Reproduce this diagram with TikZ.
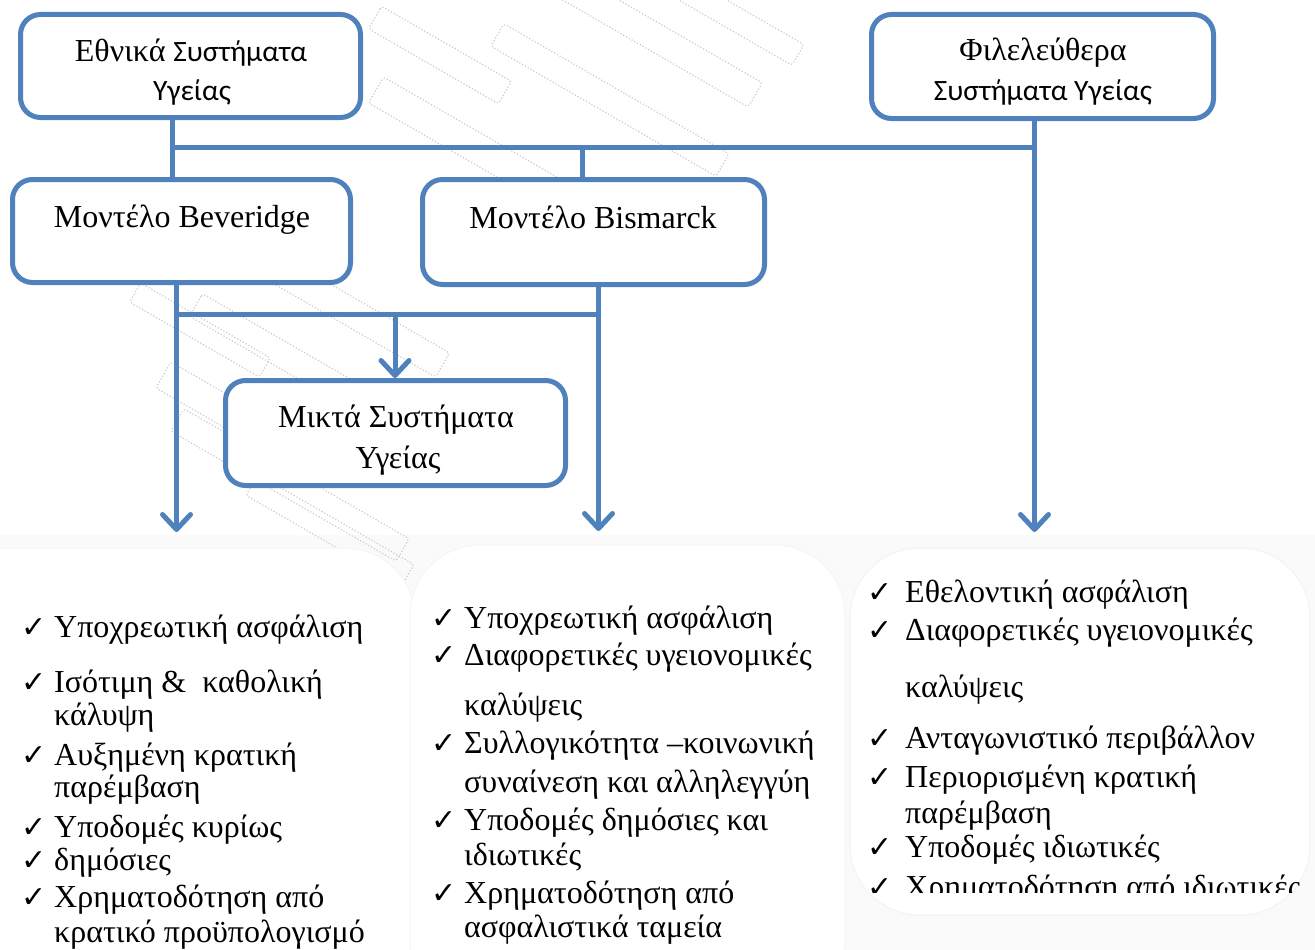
\documentclass[tikz,border=0pt]{standalone}
\usepackage{fontspec}
\setmainfont{Liberation Serif}
\newfontfamily\calib{Carlito}
\newfontfamily\djv{DejaVu Sans}
\usetikzlibrary{arrows.meta}
\definecolor{obl}{HTML}{4F81BD}
\tikzset{
  sbox/.style={draw=obl, line width=5pt, rounded corners=20pt, fill=white, inner sep=0pt},
  conn/.style={draw=obl, line width=5pt},
  arr/.style={conn, -{Straight Barb[length=15pt,width=28pt,line cap=round,line join=round]}},
  lbl/.style={inner sep=0pt, anchor=base, font=\fontsize{32}{38}\selectfont},
  bul/.style={inner sep=0pt, anchor=base west, font=\fontsize{32}{38}\selectfont},
  chk/.style={inner sep=0pt, anchor=base west, font=\djv\fontsize{30}{34}\selectfont},
  wm/.style={draw=black!20, line width=1.2pt, dotted, rounded corners=3pt},
  panel/.style={fill=white, draw=black!4, line width=1pt, rounded corners=70pt}
}
\begin{document}
\begin{tikzpicture}[x=1pt, y=-1pt]
\useasboundingbox (0,0) rectangle (1315,950);
\fill[white] (0,0) rectangle (1315,950);
\fill[black!2] (0,535) rectangle (1315,950);
% watermark
\foreach \cx/\cy/\l/\w in {660/40/220/28, 610/100/260/26, 480/150/240/30, 440/55/150/26, 330/300/260/28, 300/365/240/26, 250/425/200/30, 290/485/260/26, 330/530/180/24, 720/10/180/24, 200/330/150/22}{
  \begin{scope}[shift={(\cx,\cy)}, rotate=-30]
    \draw[wm] (-\l/2,-\w/2) rectangle (\l/2,\w/2);
  \end{scope}
}
% panels
\fill[panel] (-60,548) rectangle (415,1010);
\fill[panel] (410,545) rectangle (845,1010);
\fill[panel] (850,548) rectangle (1310,915);
\draw[panel, fill=none] (850,548) rectangle (1310,915);

% boxes
\node[sbox, minimum width=340pt, minimum height=103pt] (eth) at (190.5,66) {};
\node[sbox, minimum width=342pt, minimum height=104pt] (fil) at (1042.5,66.5) {};
\node[sbox, minimum width=338pt, minimum height=103pt] (bev) at (181.5,231) {};
\node[sbox, minimum width=342pt, minimum height=105pt] (bis) at (593.5,232) {};
\node[sbox, minimum width=340pt, minimum height=105pt] (mik) at (395.5,433) {};

% box texts
\node[lbl] (eth1) at (191,62) {Εθνικά {\calib\fontsize{29.5}{34}\selectfont Συστήματα}};
\node[lbl, font=\calib\fontsize{29.5}{34}\selectfont] (eth2) at (192,100) {Υγείας};
\node[lbl] (fil1) at (1043,60) {Φιλελεύθερα};
\node[lbl, font=\calib\fontsize{29.5}{34}\selectfont] (fil2) at (1043,100) {Συστήματα Υγείας};
\node[lbl] (bev1) at (182,227) {Μοντέλο Beveridge};
\node[lbl] (bis1) at (593,228) {Μοντέλο Bismarck};
\node[lbl] (mik1) at (396,427) {Μικτά Συστήματα};
\node[lbl] (mik2) at (398,468) {Υγείας};

% junction coordinates
\coordinate (j1) at (172.5,147.5);
\coordinate (j2) at (1034.5,147.5);
\coordinate (j3) at (582,147.5);
\coordinate (j4) at (176.5,314.5);
\coordinate (j5) at (598.5,314.5);
\coordinate (j6) at (395,314.5);
\coordinate (t1) at (176.5,532);
\coordinate (t2) at (598.5,531);
\coordinate (t3) at (1034.5,532);

% connectors
\draw[conn] (eth.south -| j1) -- (bev.north -| j1);
\draw[conn] (j1) -- (j2);
\draw[conn] (j3) -- (bis.north -| j3);
\draw[arr] (fil.south -| j2) -- (t3);
\draw[arr] (bev.south -| j4) -- (t1);
\draw[arr] (bis.south -| j5) -- (t2);
\draw[conn] (j4) -- (j5);
\draw[arr] (j6) -- (mik.north -| j6);

% column 1
\foreach \y/\t [count=\i] in {637/Υποχρεωτική ασφάλιση, 692/Ισότιμη \&\ \ καθολική, 725/κάλυψη, 765/Αυξημένη κρατική, 797/παρέμβαση, 837/Υποδομές κυρίως, 870/δημόσιες, 907/Χρηματοδότηση από, 942/κρατικό προϋπολογισμό}
  \node[bul] (a\i) at (54,\y) {\t};
\foreach \y [count=\i] in {637,692,765,837,870,907}
  \node[chk] (ka\i) at (21,\y) {✓};

% column 2
\foreach \y/\t [count=\i] in {628/Υποχρεωτική ασφάλιση, 665/Διαφορετικές υγειονομικές, 715/καλύψεις, 753/Συλλογικότητα –κοινωνική, 792/συναίνεση και αλληλεγγύη, 830/Υποδομές δημόσιες και, 865/ιδιωτικές, 903/Χρηματοδότηση από, 937/ασφαλιστικά ταμεία}
  \node[bul] (b\i) at (464,\y) {\t};
\foreach \y [count=\i] in {628,665,753,830,903}
  \node[chk] (kb\i) at (431,\y) {✓};

% column 3
\begin{scope}
\clip (840,540) rectangle (1315,892);
\foreach \y/\t [count=\i] in {602/Εθελοντική ασφάλιση, 640/Διαφορετικές υγειονομικές, 697/καλύψεις, 748/Ανταγωνιστικό περιβάλλον, 787/Περιορισμένη κρατική, 823/παρέμβαση, 857/Υποδομές ιδιωτικές, 897/Χρηματοδότηση από ιδιωτικές}
  \node[bul] (c\i) at (905,\y) {\t};
\foreach \y [count=\i] in {602,640,748,787,857,897}
  \node[chk] (kc\i) at (867,\y) {✓};
\end{scope}
\end{tikzpicture}
\end{document}
